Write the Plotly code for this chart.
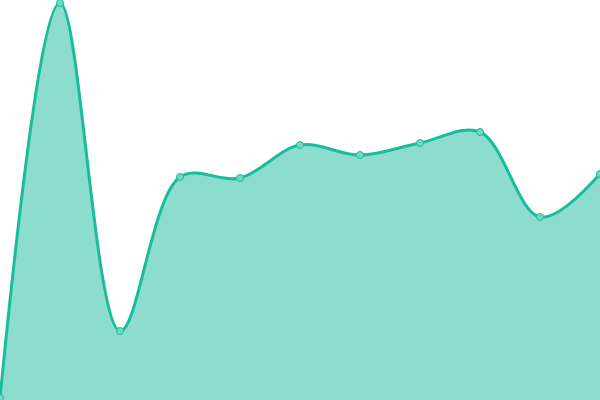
import plotly.graph_objects as go

x_vals = list(range(11))
y_vals = [2, 397, 69, 223, 222, 255, 245, 257, 268, 183, 226]

LINE = "#1abc9c"
FILL = "rgba(26,188,156,0.5)"

fig = go.Figure()
fig.add_trace(go.Scatter(
    x=x_vals, y=y_vals,
    mode="lines+markers",
    line=dict(color=LINE, width=3, shape="spline", smoothing=1),
    fill="tozeroy", fillcolor=FILL,
    marker=dict(size=7, color="#72d8c2", line=dict(color=LINE, width=1)),
    cliponaxis=False,
    hoverinfo="skip",
))

fig.update_layout(
    width=600, height=400,
    margin=dict(l=0, r=0, t=0, b=0, autoexpand=False),
    paper_bgcolor="white", plot_bgcolor="white",
    showlegend=False,
    xaxis=dict(range=[0, 10], visible=False, fixedrange=True),
    yaxis=dict(range=[0, 400], visible=False, fixedrange=True),
)

# drop the browser's default 8px body margin so the chart fills the window
fig.write_html(
    "out.html",
    config={"displayModeBar": False},
    post_script="document.body.style.margin='0';",
)
